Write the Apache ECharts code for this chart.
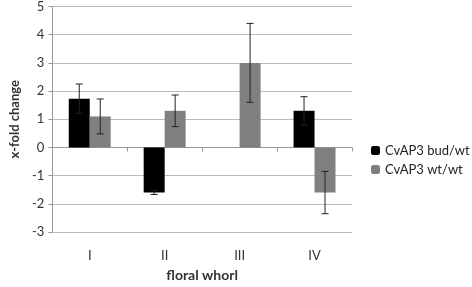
<!DOCTYPE html>
<html>
<head>
<meta charset="utf-8">
<script src="https://cdn.jsdelivr.net/npm/echarts@6/dist/echarts.min.js"></script>
<style>
  html, body { margin: 0; padding: 0; background: #fff; }
  #chart { width: 472px; height: 287px; }
</style>
</head>
<body>
<div id="chart"></div>
<script>
// data
const whorls = ['I', 'II', 'III', 'IV'];
const budValues = [1.73, -1.6, 0, 1.3];
const budErrors = [0.52, 0.07, 0, 0.5];
const wtValues = [1.1, 1.3, 3.0, -1.6];
const wtErrors = [0.62, 0.56, 1.4, 0.75];
const yTicks = { min: -3, max: 5, step: 1 };

const CAT_GAP = 0.44;

// error bar drawn over each bar, side = -1 for the left bar, +1 for the right
const errorSeries = (values, errors, side) => ({
  type: 'custom',
  xAxisIndex: 0,
  z: 5,
  silent: true,
  data: values.map((v, i) => [i, v, errors[i]]),
  renderItem: (params, api) => {
    const err = api.value(2);
    if (!err) return null;
    const val = api.value(1);
    const bandW = api.size([1, 0])[0];
    const barW = bandW * (1 - CAT_GAP) / 2;
    const base = api.coord([api.value(0), val]);
    const x = base[0] + side * barW / 2;
    const yHi = api.coord([api.value(0), val + err])[1];
    const yLo = api.coord([api.value(0), val - err])[1];
    const cap = 3.5;
    const style = { stroke: '#222', lineWidth: 1 };
    return {
      type: 'group',
      children: [
        { type: 'line', shape: { x1: x, y1: yHi, x2: x, y2: yLo }, style },
        { type: 'line', shape: { x1: x - cap, y1: yHi, x2: x + cap, y2: yHi }, style },
        { type: 'line', shape: { x1: x - cap, y1: yLo, x2: x + cap, y2: yLo }, style }
      ]
    };
  }
});

const chart = echarts.init(document.getElementById('chart'));
const font = 'Lato, "Open Sans", sans-serif';

chart.setOption({
  animation: false,
  textStyle: { fontFamily: font },
  grid: { left: 43, right: 120, top: 4, bottom: 51 },
  legend: {
    orient: 'vertical',
    left: 366,
    top: 139,
    itemWidth: 9,
    itemHeight: 9,
    itemGap: 6,
    textStyle: { fontSize: 13, color: '#222', fontFamily: font },
    data: ['CvAP3 bud/wt', 'CvAP3 wt/wt']
  },
  xAxis: [
    {
      type: 'category',
      data: whorls,
      axisLine: { onZero: true, lineStyle: { color: '#999' } },
      axisTick: { show: true, length: 4, lineStyle: { color: '#999' } },
      axisLabel: { show: false },
      splitLine: { show: false }
    },
    {
      type: 'category',
      data: whorls,
      position: 'bottom',
      axisLine: { show: false, onZero: false },
      axisTick: { show: false },
      axisLabel: { margin: 17, fontSize: 13, color: '#333', fontFamily: font },
      name: 'floral whorl',
      nameLocation: 'middle',
      nameGap: 36,
      nameTextStyle: { fontSize: 14, fontWeight: 'bold', color: '#333', fontFamily: font }
    }
  ],
  yAxis: {
    type: 'value',
    min: yTicks.min,
    max: yTicks.max,
    interval: yTicks.step,
    axisLine: { show: true, lineStyle: { color: '#999' } },
    axisTick: { show: true, length: 4, lineStyle: { color: '#999' } },
    axisLabel: { fontSize: 13, color: '#333', margin: 8, fontFamily: font },
    splitLine: { lineStyle: { color: '#bbb' } },
    name: 'x-fold change',
    nameLocation: 'middle',
    nameGap: 30,
    nameTextStyle: { fontSize: 13, fontWeight: 'bold', color: '#333', fontFamily: font }
  },
  series: [
    {
      name: 'CvAP3 bud/wt',
      type: 'bar',
      data: budValues,
      barGap: '0%',
      barCategoryGap: (CAT_GAP * 100) + '%',
      itemStyle: { color: '#000' }
    },
    {
      name: 'CvAP3 wt/wt',
      type: 'bar',
      data: wtValues,
      barGap: '0%',
      barCategoryGap: (CAT_GAP * 100) + '%',
      itemStyle: { color: '#808080' }
    },
    errorSeries(budValues, budErrors, -1),
    errorSeries(wtValues, wtErrors, 1)
  ]
});
</script>
</body>
</html>
